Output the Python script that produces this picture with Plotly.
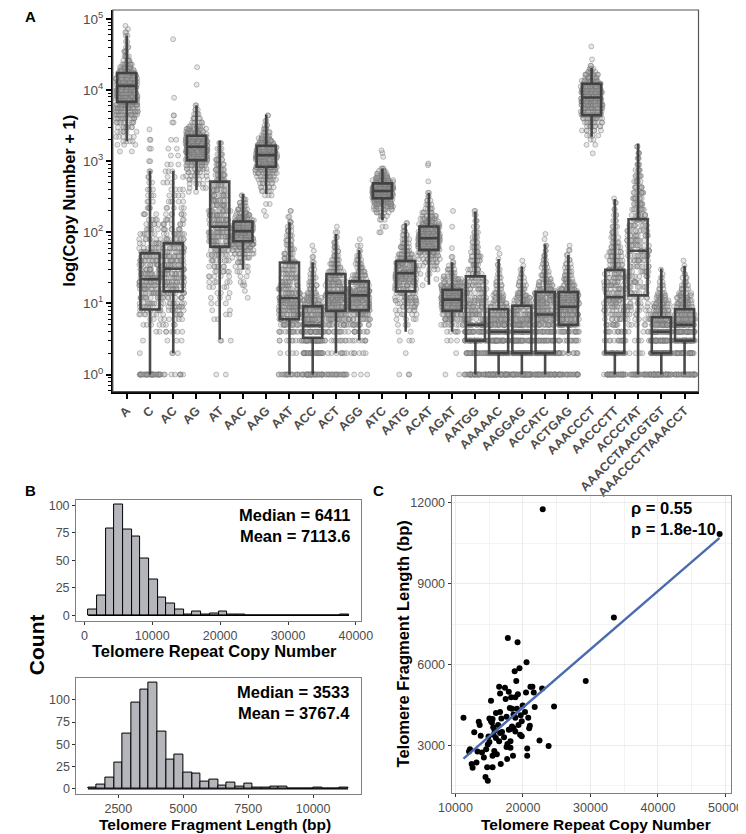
import plotly.graph_objects as go
import numpy as np

FONT = "Liberation Sans, Arial, Helvetica, sans-serif"
GREY_TXT = "#4D4D4D"

# ---------------- Panel A data ----------------
categories = ["A", "C", "AC", "AG", "AT", "AAC", "AAG", "AAT", "ACC", "ACT", "AGG", "ATC",
              "AATG", "ACAT", "AGAT", "AATGG", "AAAAAC", "AAGGAG", "ACCATC", "ACTGAG",
              "AAACCCT", "AACCCTT", "ACCCTAT", "AAACCTAACGTGT", "AAACCCTTAAACCT"]
box_q1 = [6830, 8.2, 14.8, 1037, 63, 75, 837, 6, 3.3, 7.9, 8, 301, 14.8, 56.6, 7.9, 3, 2, 2, 2, 5,
          4430, 2, 13, 2, 3]
box_median = [11460, 22, 30.7, 1597, 120, 104, 1218, 11.9, 4.9, 14, 13, 381, 26.7, 82.6, 11.3, 5, 4, 4, 7, 9,
              7850, 12.2, 55, 4, 5]
box_q3 = [17400, 51, 70, 2277, 516, 142, 1650, 37.7, 9.1, 25.8, 20.4, 488, 39.6, 120.6, 15.6, 24, 8.3, 9.3, 14.5, 14.5,
          12300, 29.7, 153, 6.4, 8.3]
box_lower = [1914, 1, 2, 393, 3.1, 29.7, 346, 1, 1, 2, 3, 149, 4, 18.3, 4, 1, 1, 1, 1, 2,
             2200, 1, 1, 1, 1]
box_upper = [58700, 736, 736, 6120, 1938, 346, 4530, 139, 38, 95, 56.6, 792, 134, 361, 38, 196, 42, 33, 68, 48,
             20400, 294, 1778, 31, 34]

# jittered sample points: per category, distinct copy-number levels and how many samples sit at each
cloud_values = [
    [1370, 1700, 1900, 2200, 2600, 3000, 3500, 4000, 4500, 5000, 5600, 6200, 6800, 7500, 8200, 9000, 10000, 11000,
     12000, 13200, 14500, 16000, 17500, 19000, 21000, 23000, 26000, 30000, 35000, 40000, 48000, 58000, 65000, 72000, 80000],
    [1, 2, 3, 4, 5, 6, 7, 8, 9, 10, 12, 14, 16, 18, 20, 23, 26, 30, 35, 40, 46, 53, 60, 70, 80, 95, 110, 130, 150, 180,
     220, 270, 330, 400, 500, 600, 720, 1000, 1500, 2000, 2800],
    [1, 2, 3, 4, 5, 6, 7, 8, 9, 10, 12, 14, 16, 18, 20, 23, 26, 30, 35, 40, 46, 53, 60, 70, 80, 95, 110, 130, 150, 180,
     220, 270, 330, 400, 500, 600, 720, 900, 1200, 1500, 2000, 3500, 4400, 7800, 52000],
    [370, 420, 480, 550, 620, 700, 780, 870, 960, 1050, 1150, 1250, 1350, 1450, 1550, 1650, 1780, 1900, 2050, 2200,
     2400, 2600, 2850, 3100, 3500, 4000, 4600, 5300, 6100, 11900, 21000],
    [1, 3, 6, 7, 8, 10, 12, 14, 17, 20, 24, 28, 33, 40, 48, 56, 65, 75, 87, 100, 115, 130, 150, 175, 200, 240, 280,
     330, 390, 460, 540, 640, 760, 900, 1050, 1250, 1500, 1800],
    [12, 15, 18, 20, 24, 28, 33, 38, 44, 50, 56, 62, 68, 75, 82, 90, 98, 106, 115, 125, 135, 148, 160, 175, 190, 210,
     235, 260, 290, 330],
    [170, 200, 250, 330, 380, 430, 490, 550, 610, 680, 750, 820, 900, 980, 1060, 1150, 1250, 1350, 1450, 1560, 1680,
     1800, 1950, 2100, 2300, 2550, 2850, 3200, 3700, 4400],
    [1, 2, 3, 4, 5, 6, 7, 8, 9, 10, 11, 12, 14, 16, 18, 20, 23, 26, 30, 34, 38, 43, 50, 58, 67, 77, 90, 105, 120, 140,
     165, 200],
    [1, 2, 3, 4, 5, 6, 7, 8, 9, 10, 11, 12, 13, 14, 16, 18, 20, 23, 26, 30, 34, 38, 45, 55, 65],
    [1, 2, 3, 4, 5, 6, 7, 8, 9, 10, 11, 12, 13, 14, 16, 18, 20, 22, 25, 28, 32, 36, 41, 47, 54, 62, 72, 85, 100, 120],
    [1, 2, 3, 4, 5, 6, 7, 8, 9, 10, 11, 12, 13, 14, 15, 16, 18, 20, 22, 25, 28, 32, 36, 41, 47, 55, 65, 80],
    [100, 120, 150, 170, 190, 210, 230, 250, 270, 290, 310, 330, 350, 370, 390, 410, 430, 455, 480, 510, 540, 580,
     620, 670, 730, 790, 1150, 1300, 1420],
    [1, 2, 3, 4, 5, 6, 7, 8, 9, 10, 11, 12, 14, 16, 18, 20, 22, 24, 26, 28, 31, 34, 37, 40, 44, 49, 55, 62, 70, 80,
     92, 105, 120, 135],
    [18, 22, 26, 30, 34, 38, 42, 47, 52, 57, 62, 68, 74, 80, 87, 94, 102, 110, 120, 130, 142, 155, 170, 190, 215, 245,
     280, 320, 360, 520, 880, 930],
    [1, 2, 3, 4, 5, 6, 7, 8, 9, 10, 11, 12, 13, 14, 15, 16, 17, 18, 20, 22, 24, 27, 30, 34, 38, 45, 60, 120, 200],
    [1, 2, 3, 4, 5, 6, 7, 8, 9, 10, 11, 12, 14, 16, 18, 20, 23, 26, 30, 35, 40, 46, 53, 62, 72, 85, 100, 120, 145,
     175, 200],
    [1, 2, 3, 4, 5, 6, 7, 8, 9, 10, 11, 12, 13, 14, 16, 18, 20, 23, 26, 30, 35, 42, 50, 60],
    [1, 2, 3, 4, 5, 6, 7, 8, 9, 10, 11, 12, 13, 14, 16, 18, 20, 23, 26, 30, 34, 40],
    [1, 2, 3, 4, 5, 6, 7, 8, 9, 10, 11, 12, 13, 14, 15, 16, 18, 20, 22, 25, 28, 32, 36, 41, 47, 55, 65, 80, 95],
    [1, 2, 3, 4, 5, 6, 7, 8, 9, 10, 11, 12, 13, 14, 15, 16, 18, 20, 22, 25, 28, 32, 36, 41, 48, 56, 65],
    [1290, 1700, 2000, 2300, 2700, 3100, 3500, 4000, 4500, 5000, 5600, 6200, 6900, 7600, 8400, 9300, 10200, 11200,
     12300, 13500, 15000, 16500, 18000, 20000, 22000, 27000, 41000],
    [1, 2, 3, 4, 5, 6, 7, 8, 9, 10, 11, 12, 14, 16, 18, 20, 23, 26, 30, 35, 40, 46, 53, 62, 72, 85, 100, 120, 145,
     175, 210, 260, 300],
    [1, 2, 3, 4, 5, 6, 7, 8, 9, 10, 12, 14, 17, 20, 24, 28, 33, 40, 47, 55, 65, 77, 90, 105, 125, 150, 175, 210, 250,
     300, 360, 430, 520, 620, 750, 900, 1100, 1300, 1600],
    [1, 2, 3, 4, 5, 6, 7, 8, 9, 10, 11, 12, 13, 14, 16, 18, 20, 23, 26, 30],
    [1, 2, 3, 4, 5, 6, 7, 8, 9, 10, 11, 12, 13, 14, 16, 18, 20, 23, 26, 30, 34, 40],
]
cloud_counts = [
    [2, 3, 4, 5, 6, 8, 10, 12, 14, 16, 18, 20, 22, 24, 25, 26, 26, 25, 24, 22, 20, 18, 15, 12, 10, 8, 6, 5, 4, 3, 2, 2, 2, 1, 1],
    [40, 1, 1, 2, 4, 3, 6, 8, 8, 10, 12, 12, 12, 12, 14, 14, 14, 14, 12, 12, 12, 10, 8, 8, 7, 6, 6, 5, 5, 4, 4, 3, 3, 3, 2, 2, 2, 2, 2, 2, 1],
    [8, 3, 3, 6, 4, 5, 6, 6, 7, 8, 10, 11, 12, 12, 13, 13, 14, 14, 14, 14, 13, 12, 12, 11, 10, 9, 8, 7, 6, 6, 5, 5, 4, 4, 3, 3, 3, 3, 2, 2, 2, 2, 2, 1, 1],
    [2, 3, 4, 5, 6, 8, 10, 12, 14, 16, 18, 20, 22, 22, 22, 22, 20, 19, 18, 16, 14, 12, 10, 8, 6, 5, 4, 3, 2, 1, 1],
    [2, 3, 2, 2, 2, 3, 3, 3, 4, 5, 5, 6, 7, 8, 10, 12, 14, 16, 17, 18, 18, 17, 16, 15, 14, 13, 12, 12, 11, 11, 10, 10, 9, 8, 7, 5, 4, 3],
    [1, 1, 2, 2, 2, 3, 4, 5, 7, 9, 11, 13, 15, 17, 18, 20, 20, 20, 19, 17, 15, 13, 11, 9, 7, 6, 5, 4, 3, 2],
    [1, 1, 2, 3, 4, 5, 6, 8, 10, 12, 14, 16, 18, 20, 21, 21, 20, 19, 17, 15, 13, 11, 9, 8, 6, 5, 4, 3, 2, 2],
    [20, 4, 8, 12, 16, 18, 18, 18, 17, 16, 14, 13, 14, 12, 11, 10, 10, 9, 9, 8, 8, 7, 7, 6, 6, 5, 5, 4, 3, 3, 2, 2],
    [40, 30, 40, 35, 30, 25, 22, 18, 15, 12, 10, 8, 7, 6, 6, 5, 4, 4, 3, 3, 2, 2, 2, 1, 1],
    [25, 8, 10, 12, 14, 16, 18, 18, 18, 18, 17, 16, 15, 14, 14, 13, 12, 11, 10, 9, 8, 7, 6, 5, 4, 4, 3, 2, 2, 1],
    [3, 6, 8, 10, 12, 14, 16, 18, 18, 18, 17, 17, 16, 15, 14, 13, 12, 11, 10, 9, 8, 6, 5, 4, 3, 2, 2, 1],
    [2, 2, 3, 4, 6, 8, 11, 14, 17, 20, 22, 24, 25, 25, 25, 24, 22, 20, 18, 16, 14, 11, 9, 7, 5, 3, 1, 1, 1],
    [3, 1, 3, 2, 3, 4, 5, 6, 7, 8, 9, 10, 11, 12, 13, 14, 14, 15, 15, 15, 14, 14, 13, 12, 11, 10, 8, 7, 6, 5, 4, 3, 2, 2],
    [1, 2, 3, 4, 5, 6, 8, 10, 12, 14, 16, 18, 19, 20, 20, 19, 18, 17, 15, 13, 11, 9, 8, 6, 5, 4, 3, 2, 2, 1, 1, 1],
    [2, 1, 3, 6, 10, 14, 18, 22, 24, 25, 25, 24, 22, 20, 17, 15, 13, 11, 9, 8, 6, 5, 4, 3, 2, 2, 1, 1, 1],
    [40, 28, 32, 28, 22, 18, 15, 12, 11, 10, 9, 9, 9, 9, 9, 9, 9, 9, 8, 8, 7, 7, 6, 6, 5, 5, 4, 3, 3, 2, 2],
    [60, 45, 40, 32, 26, 20, 16, 13, 10, 9, 7, 6, 5, 5, 4, 4, 3, 3, 2, 2, 2, 1, 1, 1],
    [55, 45, 40, 35, 28, 22, 18, 15, 12, 10, 8, 7, 6, 5, 5, 4, 3, 3, 2, 2, 1, 1],
    [45, 30, 25, 22, 20, 18, 18, 17, 16, 15, 14, 13, 12, 11, 10, 9, 9, 8, 7, 6, 5, 4, 4, 3, 3, 2, 2, 1, 1],
    [30, 15, 15, 18, 20, 22, 22, 22, 21, 20, 19, 17, 15, 13, 12, 10, 9, 8, 7, 6, 5, 4, 3, 3, 2, 2, 1],
    [1, 2, 2, 4, 6, 8, 10, 13, 16, 18, 20, 22, 23, 24, 24, 23, 21, 19, 16, 13, 10, 8, 6, 4, 2, 1, 1],
    [40, 22, 14, 12, 10, 9, 9, 9, 9, 9, 9, 9, 10, 10, 10, 10, 10, 10, 10, 9, 9, 8, 8, 7, 6, 5, 5, 4, 3, 3, 2, 2, 1],
    [30, 4, 4, 4, 5, 5, 5, 6, 6, 6, 7, 8, 8, 9, 9, 10, 10, 11, 11, 11, 11, 11, 11, 10, 10, 10, 10, 9, 9, 8, 8, 7, 6, 6, 5, 4, 3, 3, 2],
    [55, 50, 45, 40, 32, 26, 20, 15, 12, 10, 8, 6, 5, 4, 3, 3, 2, 2, 1, 1],
    [40, 30, 45, 40, 35, 30, 25, 20, 15, 12, 10, 8, 7, 6, 5, 4, 3, 3, 2, 2, 1, 1],
]
y_tickvals = [1, 10, 100, 1000, 10000, 100000]
y_ticktext = ["10<sup>0</sup>", "10<sup>1</sup>", "10<sup>2</sup>", "10<sup>3</sup>", "10<sup>4</sup>", "10<sup>5</sup>"]

# ---------------- Panel B data ----------------
copy_bin_start = 574
copy_bin_width = 1280
copy_counts = [5, 18, 79, 101, 78, 72, 52, 33, 16, 11, 5, 1, 3, 1, 2, 3, 1, 1, 0, 0, 0, 0, 0, 0, 0, 0, 0, 0, 0, 1]
copy_ticks = [0, 10000, 20000, 30000, 40000]
frag_bin_start = 1333
frag_bin_width = 333.7
frag_counts = [1, 5, 13, 29, 62, 97, 112, 119, 64, 33, 39, 18, 17, 8, 10, 4, 7, 2, 6, 1, 1, 2, 2, 0, 0, 0, 1, 0, 0, 1]
frag_ticks = [2500, 5000, 7500, 10000, 12500]
count_ticks = [0, 25, 50, 75, 100]

# ---------------- Panel C data ----------------
scatter_copy = [11190, 12010, 12150, 12780, 12400, 12540, 13120, 13450, 13590, 13740, 13260, 13930, 14210, 14450,
                14790, 14700, 14550, 14790, 15030, 15030, 15270, 15270, 15500, 15600, 15650, 15500, 15500, 15750,
                16130, 15990, 16470, 16320, 16470, 16610, 16610, 16610, 16710, 17330, 17430, 17570, 17570, 17660,
                17760, 17900, 17900, 18050, 18150, 18150, 18240, 18380, 18380, 18520, 18620, 18770, 18870, 18870,
                18870, 19010, 19100, 19200, 19250, 19340, 19480, 19580, 19670, 19820, 19820, 19960, 20300, 20450,
                20530, 20630, 20630, 20780, 20920, 21020, 21110, 21400, 21600, 21740, 22840, 22450, 23800, 24610,
                29300, 33470, 22930, 49130, 14900, 15400, 16000, 16900, 17200, 17700, 18100, 18600, 16800, 15800]
scatter_frag = [4023, 2770, 2855, 3490, 2313, 2170, 2370, 3878, 3760, 3360, 2770, 2733, 2552, 1830,
                1685, 2190, 2855, 3036, 3130, 4000, 3900, 4660, 3975, 3672, 3397, 2613, 2190, 2794,
                2675, 3275, 3155, 3760, 5180, 4927, 4240, 3456, 2313, 5143, 4720, 4060, 2938, 2494,
                6986, 4988, 3578, 4384, 2913, 3155, 4782, 4360, 3697, 2613, 3636, 5746, 4782, 4023,
                3517, 5385, 4360, 6830, 4900, 3760, 5866, 3397, 4120, 3900, 3336, 4480, 4240, 4963,
                6083, 2890, 2613, 4023, 3636, 3733, 5180, 5180, 4963, 4420, 5107, 3180, 2975, 4446,
                5385, 7745, 11757, 10843, 3330, 3850, 4200, 3500, 3300, 3050, 3600, 4150, 4000, 3550]

# ---------------- Figure ----------------
fig = go.Figure()

# Panel A: jittered points (library jitter), then boxes
pts_x, pts_y = [], []
for cat, vals, cnts in zip(categories, cloud_values, cloud_counts):
    for v, c in zip(vals, cnts):
        pts_x.extend([cat] * c)
        pts_y.extend([v] * c)

fig.add_trace(go.Box(
    x=pts_x, y=pts_y, xaxis="x", yaxis="y",
    boxpoints="all", jitter=1.0, pointpos=0, width=0.95,
    fillcolor="rgba(0,0,0,0)", line=dict(width=0, color="rgba(0,0,0,0)"),
    marker=dict(size=5, color="rgba(165,165,165,0.28)",
                line=dict(color="rgba(115,115,115,0.55)", width=0.8)),
    showlegend=False, hoverinfo="skip"))

fig.add_trace(go.Box(
    x=categories, q1=box_q1, median=box_median, q3=box_q3,
    lowerfence=box_lower, upperfence=box_upper, xaxis="x", yaxis="y",
    boxpoints=False, width=0.82, whiskerwidth=0,
    fillcolor="rgba(0,0,0,0)", line=dict(color="rgba(60,60,60,0.92)", width=2.6),
    showlegend=False))

# Panel B histograms
copy_centers = [copy_bin_start + (k + 0.5) * copy_bin_width for k in range(len(copy_counts))]
frag_centers = [frag_bin_start + (k + 0.5) * frag_bin_width for k in range(len(frag_counts))]
bar_fill = "#B4B6BB"
fig.add_trace(go.Bar(x=copy_centers, y=copy_counts, width=copy_bin_width, xaxis="x2", yaxis="y2",
                     marker=dict(color=bar_fill, line=dict(color="black", width=1)), showlegend=False))
fig.add_trace(go.Scatter(x=[copy_bin_start, copy_bin_start + len(copy_counts) * copy_bin_width], y=[0, 0],
                         mode="lines", line=dict(color="black", width=1.2), xaxis="x2", yaxis="y2",
                         showlegend=False, hoverinfo="skip"))
fig.add_trace(go.Bar(x=frag_centers, y=frag_counts, width=frag_bin_width, xaxis="x3", yaxis="y3",
                     marker=dict(color=bar_fill, line=dict(color="black", width=1)), showlegend=False))
fig.add_trace(go.Scatter(x=[frag_bin_start, frag_bin_start + len(frag_counts) * frag_bin_width], y=[0, 0],
                         mode="lines", line=dict(color="black", width=1.2), xaxis="x3", yaxis="y3",
                         showlegend=False, hoverinfo="skip"))

# Panel C scatter + linear fit
slope, intercept = np.polyfit(scatter_copy, scatter_frag, 1)
fit_x = [min(scatter_copy), max(scatter_copy)]
fit_y = [slope * v + intercept for v in fit_x]
fig.add_trace(go.Scatter(x=scatter_copy, y=scatter_frag, mode="markers", xaxis="x4", yaxis="y4",
                         marker=dict(color="black", size=6), showlegend=False))
fig.add_trace(go.Scatter(x=fit_x, y=fit_y, mode="lines", xaxis="x4", yaxis="y4",
                         line=dict(color="#4A6BAF", width=2.4), showlegend=False))

W, H = 746, 834


def dx(a, b):
    return [a / W, b / W]


def dy(top, bottom):
    return [(H - bottom) / H, (H - top) / H]


tickfont = dict(family=FONT, size=12.5, color=GREY_TXT)
frame = dict(showline=True, linecolor="#7F7F7F", linewidth=1, mirror=True, ticks="outside",
             ticklen=3, tickcolor="#333333", tickwidth=1, tickfont=tickfont, zeroline=False,
             tickformat="d")

fig.update_layout(
    width=W, height=H, autosize=False, margin=dict(l=0, r=0, t=0, b=0),
    paper_bgcolor="white", plot_bgcolor="white", showlegend=False,
    boxmode="overlay", bargap=0, font=dict(family=FONT),
    xaxis=dict(domain=dx(95, 701), anchor="y", type="category", categoryorder="array",
               categoryarray=categories, range=[-0.6, 24.6], tickangle=-45,
               tickfont=dict(family=FONT, size=12.5, color=GREY_TXT, weight="bold"),
               ticks="outside", ticklen=5, tickwidth=1.5, tickcolor="black",
               showline=True, linecolor="black", linewidth=1.8, showgrid=False, zeroline=False),
    yaxis=dict(domain=dy(1, 384), anchor="x", type="log", range=[-0.24, 5.126],
               tickmode="array", tickvals=y_tickvals, ticktext=y_ticktext,
               tickfont=dict(family=FONT, size=13.5, color=GREY_TXT),
               ticks="outside", ticklen=5, tickwidth=1.8, tickcolor="black",
               minor=dict(ticks="outside", ticklen=3, tickwidth=1, tickcolor="black", dtick="D1", showgrid=False),
               showline=True, linecolor="black", linewidth=1.8, showgrid=False, zeroline=False),
    xaxis2=dict(domain=dx(57, 351.7), anchor="y2", range=[-1220, 40740], tickmode="array", tickvals=copy_ticks,
                showgrid=False, **frame),
    yaxis2=dict(domain=dy(492.3, 614), anchor="x2", range=[-5, 105.4], tickmode="array", tickvals=count_ticks,
                showgrid=False, **frame),
    xaxis3=dict(domain=dx(57.3, 351.7), anchor="y3", range=[885, 11840], tickmode="array",
                tickvals=frag_ticks, showgrid=False, **frame),
    yaxis3=dict(domain=dy(671, 788), anchor="x3", range=[-6, 125], tickmode="array", tickvals=count_ticks,
                showgrid=False, **frame),
    xaxis4=dict(domain=dx(445.5, 734.5), anchor="y4", range=[9425, 50800], dtick=10000, tick0=0,
                showgrid=True, gridcolor="#EBEBEB", gridwidth=1,
                minor=dict(dtick=5000, tick0=0, showgrid=True, gridcolor="#F3F3F3", gridwidth=0.7),
                **frame),
    yaxis4=dict(domain=dy(488.3, 787), anchor="x4", range=[1229, 12267], dtick=3000, tick0=0,
                showgrid=True, gridcolor="#EBEBEB", gridwidth=1,
                minor=dict(dtick=1500, tick0=0, showgrid=True, gridcolor="#F3F3F3", gridwidth=0.7),
                **frame),
)

# grey frame on top/right of panel A
fig.add_shape(type="rect", xref="x domain", yref="y domain", x0=0, x1=1, y0=0, y1=1,
              line=dict(color="#555555", width=1.2), layer="above")


def ann(text, x, y, size, angle=0, xanchor="center", yanchor="middle", align="center", xref="paper", yref="paper"):
    fig.add_annotation(text=text, x=x, y=y, xref=xref, yref=yref, showarrow=False, textangle=angle,
                       xanchor=xanchor, yanchor=yanchor, align=align,
                       font=dict(family=FONT, size=size, color="black", weight="bold"))


def px(x):
    return x / W


def py(y):
    return (H - y) / H


ann("A", px(2), py(8), 15, xanchor="left")
ann("B", px(2), py(483), 15, xanchor="left")
ann("C", px(362), py(483), 15, xanchor="left")
ann("log(Copy Number + 1)", px(50), py(192), 16.5, angle=-90)
ann("Count", px(16), py(638), 21, angle=-90)
ann("Telomere Repeat Copy Number", px(200), py(644), 16.5)
ann("Telomere Fragment Length (bp)", px(201), py(829), 15.5, yanchor="bottom")
ann("Telomere Fragment Length (bp)", px(395), py(637), 16.5, angle=-90)
ann("Telomere Repeat Copy Number", px(595), py(829), 15.5, yanchor="bottom")
ann("Median = 6411<br>Mean = 7113.6", 0.97, 0.785, 16.5, xanchor="right", align="right",
    xref="x2 domain", yref="y2 domain")
ann("Median = 3533<br>Mean = 3767.4", 0.97, 0.79, 16.5, xanchor="right", align="right",
    xref="x3 domain", yref="y3 domain")
ann("\u03c1 = 0.55<br>p = 1.8e-10", 0.636, 0.923, 16.5, xanchor="left", align="left",
    xref="x4 domain", yref="y4 domain")

fig.write_html("out.html")
